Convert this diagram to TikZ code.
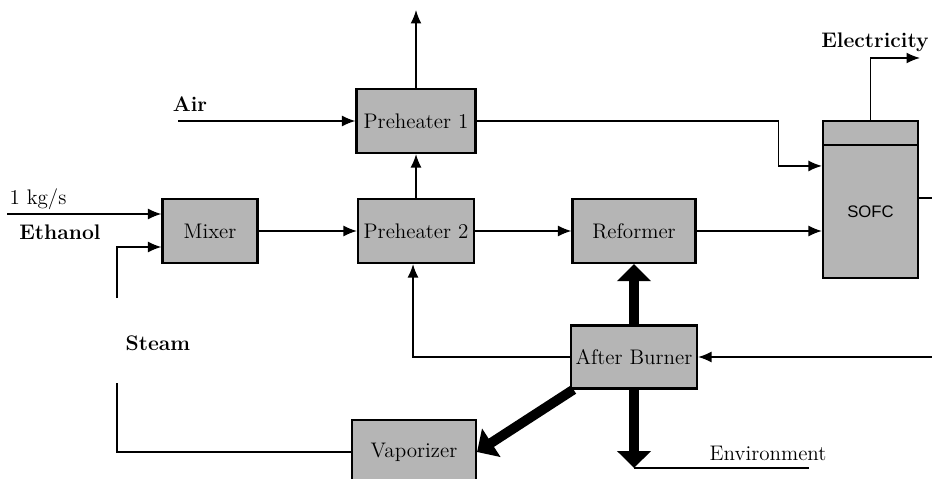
\documentclass[tikz,border=0pt]{standalone}
\usepackage{fontspec}
\newfontfamily\sofcfont{Liberation Sans}
\usetikzlibrary{positioning, arrows.meta, calc}

\begin{document}
\begin{tikzpicture}[
    x=0.02cm, y=-0.02cm,
    every node/.style={align=center, font=\fontsize{12}{14}\selectfont},
    unit/.style={rectangle, draw, line width=1.2pt, fill=black!29, inner sep=0pt, minimum height=1.28cm},
    flowlabel/.style={inner sep=0pt, font=\fontsize{12}{14}\selectfont\bfseries},
    line/.style={line width=0.9pt},
    flow/.style={-{Latex[length=2.7mm,width=2.2mm]}, line width=0.9pt},
    heat/.style={-{Triangle[length=3.4mm,width=6.6mm]}, line width=5.6pt}
]
\useasboundingbox (0,0) rectangle (932,479);

% units
\node[unit, minimum width=2.38cm] (ph1) at (416,121) {Preheater 1};
\node[unit, minimum width=1.9cm] (mix) at (210,231) {Mixer};
\node[unit, minimum width=2.32cm] (ph2) at (416,231) {Preheater 2};
\node[unit, minimum width=2.46cm] (ref) at (634,231) {Reformer};
\node[unit, minimum width=2.52cm, minimum height=1.26cm] (ab) at (634,357) {After Burner};
\node[unit, minimum width=2.48cm] (vap) at (414,452) {Vaporizer};
\node[unit, minimum width=1.9cm, minimum height=2.66cm, font=\sofcfont\fontsize{9.5}{11}\selectfont] (sofc) at (870.5,211.5) {SOFC};
\node[unit, minimum width=1.9cm, minimum height=0.48cm, above=-1.2pt of sofc] (cap) {};

% labels
\node[flowlabel] (air) at (190,104) {Air};
\node[inner sep=0pt] (rate) at (38,199) {1 kg/s};
\node[flowlabel] (eth) at (60,232) {Ethanol};
\node[flowlabel] (steam) at (158,343) {Steam};
\node[flowlabel, anchor=east] (elec) at (929,42) {Electricity};
\node[inner sep=0pt] (env) at (768,453) {Environment};

% free ends
\coordinate (exhaust) at (416,10);
\coordinate (airin) at (178,121);
\coordinate (ethin) at (7,214);
\coordinate (steamtop) at (117,298);
\coordinate (steambot) at (117,383);
\coordinate (elecout) at (920,58);
\coordinate (sofcout) at (932,198);
\coordinate (abin) at (932,357);
\coordinate (envtip) at (634,468);
\coordinate (envend) at (809,468);

% gas side
\draw[flow] (ph1.north) -- (exhaust);
\draw[flow] (airin) -- (ph1.west);
\draw[flow] (ph1.east) -- ++(302,0) |- ($(sofc.north west)+(0,22)$);
\draw[flow] (ethin) -- (mix.west |- ethin);
\draw[flow] (steamtop) |- ($(mix.west)+(0,16)$);
\draw[line] (steambot) |- (vap.west);
\draw[flow] (mix) -- (ph2);
\draw[flow] (ph2) -- (ref);
\draw[flow] (ph2) -- (ph1);
\draw[flow] (ref) -- (sofc.west |- ref);
\draw[flow] (cap.north) |- (elecout);
\draw[line] (sofc.east |- sofcout) -- (sofcout);
\draw[flow] (abin) -- (ab.east);
\draw[flow] (ab.west) -| ([xshift=-1.7pt]ph2.south);

% heat
\draw[heat] (ab.north) -- (ref.south);
\draw[heat] (ab.south) -- (envtip);
\draw[line] (envtip) -- (envend);
\draw[heat] ([xshift=2pt]ab.south west) -- (vap.east);

\end{tikzpicture}
\end{document}
